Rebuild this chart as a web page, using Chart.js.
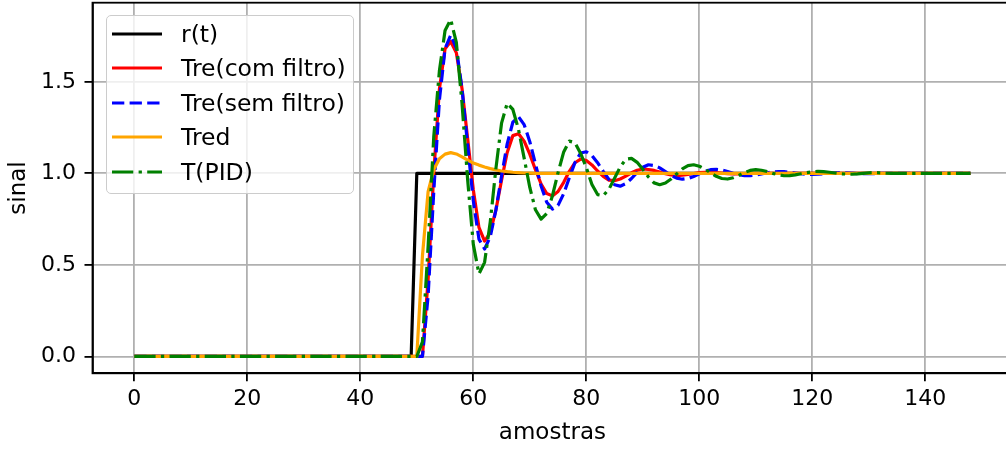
<!DOCTYPE html>
<html>
<head>
<meta charset="utf-8">
<script src="https://cdn.jsdelivr.net/npm/chart.js@4.4.1/dist/chart.umd.min.js"></script>
<style>
html, body { margin: 0; padding: 0; background: #fff; overflow: hidden; }
#wrap { position: relative; width: 1006px; height: 451px; overflow: hidden; }
#chart { position: absolute; left: 0; top: 0; }
#legend {
	position: absolute; left: 106px; top: 15px; width: 248px; height: 179px;
	box-sizing: border-box; border: 1.8px solid #cccccc; border-radius: 5px;
	background: rgba(255,255,255,0.8);
	font-family: "DejaVu Sans"; font-size: 23.5px; color: #000;
}
.item { position: absolute; left: 0; width: 240px; height: 30px; }
.item svg { position: absolute; left: 5px; top: 10px; }
.item span { position: absolute; left: 74px; top: 0; line-height: 30px; white-space: nowrap; }
</style>
</head>
<body>
<div id="wrap">
	<canvas id="chart" width="1014" height="451"></canvas>
	<div id="legend"></div>
</div>
<script>
// sample index (x axis)
var amostras = Array.from({length: 149}, function(_, i) { return i; });
var xTicks = [0, 20, 40, 60, 80, 100, 120, 140];
var yTicks = [0, 0.5, 1.0, 1.5];

// r(t) - step reference
var rt = [
	0,0,0,0,0,0,0,0,0,0,
	0,0,0,0,0,0,0,0,0,0,
	0,0,0,0,0,0,0,0,0,0,
	0,0,0,0,0,0,0,0,0,0,
	0,0,0,0,0,0,0,0,0,0,
	1,1,1,1,1,1,1,1,1,1,
	1,1,1,1,1,1,1,1,1,1,
	1,1,1,1,1,1,1,1,1,1,
	1,1,1,1,1,1,1,1,1,1,
	1,1,1,1,1,1,1,1,1,1,
	1,1,1,1,1,1,1,1,1,1,
	1,1,1,1,1,1,1,1,1,1,
	1,1,1,1,1,1,1,1,1,1,
	1,1,1,1,1,1,1,1,1,1,
	1,1,1,1,1,1,1,1,1
];

// Tre(com filtro)
var treCom = [
	0,0,0,0,0,0,0,0,0,0,
	0,0,0,0,0,0,0,0,0,0,
	0,0,0,0,0,0,0,0,0,0,
	0,0,0,0,0,0,0,0,0,0,
	0,0,0,0,0,0,0,0,0,0,
	0,0,0.42,1.0,1.46,1.68,1.72,1.658,1.464,1.19,
	0.911,0.705,0.63,0.676,0.80,0.962,1.114,1.206,1.216,1.176,
	1.105,1.02,0.942,0.89,0.877,0.901,0.951,1.011,1.058,1.078,
	1.07,1.046,1.013,0.983,0.963,0.96,0.969,0.985,1.003,1.017,
	1.024,1.021,1.016,1.007,0.998,0.991,0.988,0.99,0.994,0.999,
	1.004,1.006,1.006,1.004,1.001,0.998,0.997,0.997,0.999,1,
	1,1,1,1,1,1,1,1,1,1,
	1,1,1,1,1,1,1,1,1,1,
	1,1,1,1,1,1,1,1,1,1,
	1,1,1,1,1,1,1,1,1
];

// Tre(sem filtro)
var treSem = [
	0,0,0,0,0,0,0,0,0,0,
	0,0,0,0,0,0,0,0,0,0,
	0,0,0,0,0,0,0,0,0,0,
	0,0,0,0,0,0,0,0,0,0,
	0,0,0,0,0,0,0,0,0,0,
	0,0,0.33,0.9,1.4,1.68,1.755,1.684,1.463,1.154,
	0.851,0.641,0.587,0.654,0.8,0.985,1.161,1.279,1.309,1.266,
	1.173,1.051,0.931,0.842,0.805,0.825,0.889,0.976,1.059,1.111,
	1.118,1.097,1.058,1.011,0.967,0.938,0.93,0.944,0.972,1.005,
	1.033,1.047,1.043,1.03,1.01,0.989,0.974,0.968,0.972,0.983,
	0.997,1.011,1.02,1.022,1.018,1.01,1.0,0.992,0.987,0.988,
	0.991,0.997,1.003,1.008,1.01,1.009,1.006,1.002,0.998,0.995,
	0.994,0.995,0.998,1.001,1.003,1.004,1.003,1.001,0.999,0.998,
	0.998,0.999,1,1,1,1,1,1,1,1,
	1,1,1,1,1,1,1,1,1
];

// Tred
var tred = [
	0,0,0,0,0,0,0,0,0,0,
	0,0,0,0,0,0,0,0,0,0,
	0,0,0,0,0,0,0,0,0,0,
	0,0,0,0,0,0,0,0,0,0,
	0,0,0,0,0,0,0,0,0,0,
	0,0.55,0.9,1.02,1.08,1.105,1.113,1.106,1.09,1.072,
	1.056,1.045,1.035,1.026,1.019,1.013,1.009,1.006,1.004,1.002,
	1.001,1,1,1,1,1,1,1,1,1,
	1,1,1,1,1,1,1,1,1,1,
	1,1,1,1,1,1,1,1,1,1,
	1,1,1,1,1,1,1,1,1,1,
	1,1,1,1,1,1,1,1,1,1,
	1,1,1,1,1,1,1,1,1,1,
	1,1,1,1,1,1,1,1,1,1,
	1,1,1,1,1,1,1,1,1
];

// T(PID)
var tPid = [
	0,0,0,0,0,0,0,0,0,0,
	0,0,0,0,0,0,0,0,0,0,
	0,0,0,0,0,0,0,0,0,0,
	0,0,0,0,0,0,0,0,0,0,
	0,0,0,0,0,0,0,0,0,0,
	0,0.08,0.6,1.2,1.56,1.78,1.84,1.715,1.383,0.965,
	0.612,0.451,0.514,0.735,1.026,1.274,1.383,1.349,1.24,1.083,
	0.923,0.801,0.75,0.781,0.877,1.004,1.117,1.176,1.167,1.109,
	1.032,0.939,0.884,0.878,0.913,0.973,1.035,1.077,1.082,1.06,
	1.022,0.98,0.948,0.938,0.947,0.969,0.997,1.024,1.042,1.047,
	1.039,1.023,1.003,0.984,0.972,0.969,0.976,0.989,1.004,1.016,
	1.02,1.017,1.01,1.0,0.992,0.987,0.988,0.992,0.998,1.004,
	1.009,1.011,1.009,1.006,1.002,0.998,0.996,0.995,0.997,1.0,
	1.003,1.004,1.003,1.001,1,1,1,1,1,1,
	1,1,1,1,1,1,1,1,1
];

var seriesNames = ['r(t)', 'Tre(com filtro)', 'Tre(sem filtro)', 'Tred', 'T(PID)'];
var seriesData = [rt, treCom, treSem, tred, tPid];
var seriesColors = ['#000000', '#ff0000', '#0000ff', '#ffa500', '#008000'];
var seriesDash = [[], [], [12.3, 5.3], [], [21.3, 5.3, 3.3, 5.3]];

var tickFont = {family: 'DejaVu Sans', size: 22};
var titleFont = {family: 'DejaVu Sans', size: 23};

function toPoints(arr) {
	return arr.map(function(v, i) { return {x: amostras[i], y: v}; });
}

var datasets = [];
for (var i = 0; i < seriesNames.length; i++) {
	datasets.push({
		label: seriesNames[i],
		data: toPoints(seriesData[i]),
		borderColor: seriesColors[i],
		backgroundColor: seriesColors[i],
		borderWidth: 3.2,
		borderDash: seriesDash[i],
		borderJoinStyle: 'round',
		pointRadius: 0,
		tension: 0,
		fill: false,
		order: seriesNames.length - i   // later series drawn on top, as in matplotlib
	});
}

// top / right spines
var frame = {
	id: 'frame',
	afterDatasetsDraw: function(chart) {
		var ctx = chart.ctx, a = chart.chartArea;
		ctx.save();
		ctx.strokeStyle = '#000';
		ctx.lineWidth = 1.8;
		ctx.strokeRect(a.left, a.top, a.right - a.left, a.bottom - a.top);
		ctx.restore();
	}
};

var ctx = document.getElementById('chart').getContext('2d');
var myChart = new Chart(ctx, {
	type: 'line',
	data: {datasets: datasets},
	plugins: [frame],
	options: {
		responsive: false,
		animation: false,
		devicePixelRatio: 1,
		layout: {padding: {top: 2.7, right: 1.7, left: 0, bottom: 0}},
		plugins: {legend: {display: false}, tooltip: {enabled: false}},
		scales: {
			x: {
				type: 'linear', min: -7.4, max: 155.4,
				afterBuildTicks: function(s) { s.ticks = xTicks.map(function(v) { return {value: v}; }); },
				afterFit: function(s) { s.height = 77.7; s.paddingLeft = 0; s.paddingRight = 0; },
				grid: {color: '#b0b0b0', lineWidth: 1.8, tickColor: '#000', tickWidth: 1.8, tickLength: 8},
				border: {color: '#000', width: 1.8},
				ticks: {color: '#000', font: tickFont, padding: 5, maxRotation: 0, autoSkip: false,
					callback: function(v) { return String(v); }},
				title: {display: true, text: 'amostras', color: '#000', font: titleFont, padding: {top: 4, bottom: 4}}
			},
			y: {
				type: 'linear', min: -0.092, max: 1.932,
				afterBuildTicks: function(s) { s.ticks = yTicks.map(function(v) { return {value: v}; }); },
				afterFit: function(s) { s.width = 92.5; s.paddingTop = 0; s.paddingBottom = 0; },
				grid: {color: '#b0b0b0', lineWidth: 1.8, tickColor: '#000', tickWidth: 1.8, tickLength: 8},
				border: {color: '#000', width: 1.8},
				ticks: {color: '#000', font: tickFont, padding: 8.5, autoSkip: false,
					callback: function(v) { return v.toFixed(1); }},
				title: {display: true, text: 'sinal', color: '#000', font: titleFont, padding: {top: 5.2, bottom: 4}}
			}
		}
	}
});

// legend inside the axes, upper left
var rowCenters = [19.3, 54, 88.3, 122.7, 157.3];
var legend = document.getElementById('legend');
for (var k = 0; k < seriesNames.length; k++) {
	var item = document.createElement('div');
	item.className = 'item';
	item.style.top = (rowCenters[k] - 15 - 1.8) + 'px';
	var dash = seriesDash[k].length ? ' stroke-dasharray="' + seriesDash[k].join(' ') + '"' : '';
	item.innerHTML = '<svg width="50" height="10"><line x1="0" y1="5" x2="50" y2="5" stroke="' +
		seriesColors[k] + '" stroke-width="3.2"' + dash + '/></svg><span></span>';
	item.querySelector('span').textContent = seriesNames[k];
	legend.appendChild(item);
}
</script>
</body>
</html>
